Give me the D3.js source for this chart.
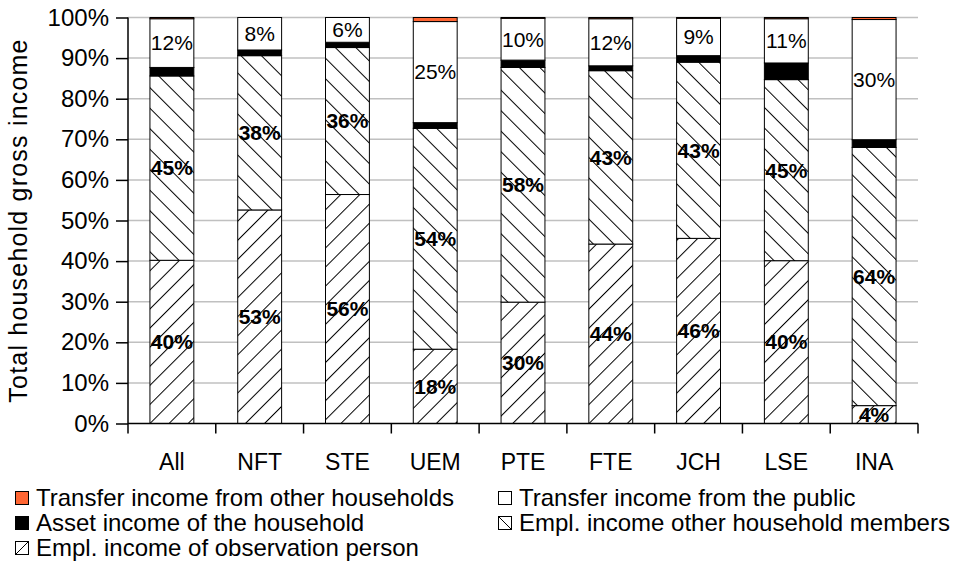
<!DOCTYPE html>
<html>
<head>
<meta charset="utf-8">
<script src="https://cdn.jsdelivr.net/npm/d3@7"></script>
<style>
  html, body { margin: 0; padding: 0; background: #fff; }
  svg { display: block; font-family: "Liberation Sans", Arial, sans-serif; }
</style>
</head>
<body>
<svg id="chart" width="957" height="576"></svg>
<script>
// Household groups on the x axis
const categories = ["All", "NFT", "STE", "UEM", "PTE", "FTE", "JCH", "LSE", "INA"];

// Income shares (%) per group, stacked bottom to top
const emplObservation = [40.2, 52.6, 56.4, 18.3, 29.9, 44.2, 45.6, 40.1, 4.4];
const emplOtherMembers = [45.4, 38.0, 36.2, 54.4, 57.8, 42.7, 43.4, 44.6, 63.6];
const assetIncome      = [2.1, 1.4, 1.3, 1.4, 1.8, 1.2, 1.6, 4.1, 1.9];
const transferPublic   = [12.0, 8.0, 6.1, 24.9, 10.3, 11.6, 9.2, 10.9, 29.6];
const transferHouseholds = [0.3, 0.0, 0.0, 1.0, 0.2, 0.3, 0.2, 0.3, 0.5];

const yTicks = [0, 10, 20, 30, 40, 50, 60, 70, 80, 90, 100];
const yTitle = "Total household gross income";

const seriesKeys = ["obs", "other", "asset", "public", "hh"];
const seriesNames = {
  hh: "Transfer income from other households",
  public: "Transfer income from the public",
  asset: "Asset income of the household",
  other: "Empl. income other household members",
  obs: "Empl. income of observation person"
};
const seriesValues = {
  obs: emplObservation, other: emplOtherMembers, asset: assetIncome,
  public: transferPublic, hh: transferHouseholds
};

const rows = categories.map((c, i) => {
  const r = { cat: c };
  seriesKeys.forEach(k => r[k] = seriesValues[k][i]);
  return r;
});

const svg = d3.select("#chart");
const FONT = "Liberation Sans, Arial, sans-serif";

// hatch fills
const defs = svg.append("defs");
function hatch(id, spacing, angle) {
  const p = defs.append("pattern")
    .attr("id", id)
    .attr("patternUnits", "userSpaceOnUse")
    .attr("width", spacing).attr("height", spacing)
    .attr("patternTransform", `rotate(${angle})`);
  p.append("rect").attr("width", spacing).attr("height", spacing).attr("fill", "#fff");
  p.append("line").attr("x1", 0.5).attr("x2", 0.5).attr("y1", 0).attr("y2", spacing)
    .attr("stroke", "#000").attr("stroke-width", 1);
}
hatch("hatchUp", 13.5, 45);     // "/" lines
hatch("hatchDown", 14.5, -45);  // "\" lines

const fills = {
  obs: "url(#hatchUp)",
  other: "url(#hatchDown)",
  asset: "#000",
  public: "#fff",
  hh: "#ff6633"
};

const plot = { left: 128, right: 918, top: 17.5, bottom: 423.5 };

const x = d3.scaleBand()
  .domain(categories)
  .range([plot.left, plot.right])
  .paddingInner(0.5)
  .paddingOuter(0.25);

const y = d3.scaleLinear()
  .domain([0, 100])
  .range([plot.bottom, plot.top]);

// horizontal gridlines
svg.append("g")
  .selectAll("line")
  .data(yTicks.filter(t => t > 0))
  .join("line")
  .attr("x1", plot.left).attr("x2", plot.right)
  .attr("y1", d => y(d)).attr("y2", d => y(d))
  .attr("stroke", "#c0c0c0").attr("stroke-width", 1.5);

// stacked bars
const stack = d3.stack().keys(seriesKeys);
const stacked = stack(rows);

const layers = svg.append("g")
  .selectAll("g")
  .data(stacked)
  .join("g")
  .attr("fill", d => fills[d.key]);

layers.selectAll("rect")
  .data(d => d)
  .join("rect")
  .attr("x", d => x(d.data.cat))
  .attr("width", x.bandwidth())
  .attr("y", d => y(d[1]))
  .attr("height", d => y(d[0]) - y(d[1]))
  .attr("stroke", "#000")
  .attr("stroke-width", 1);

// value labels
const labelled = { obs: "bold", other: "bold", public: "normal" };
stacked.filter(s => labelled[s.key]).forEach(s => {
  svg.append("g")
    .selectAll("text")
    .data(s)
    .join("text")
    .attr("x", d => x(d.data.cat) + x.bandwidth() / 2)
    .attr("y", d => y((d[0] + d[1]) / 2))
    .attr("dy", "0.35em")
    .attr("text-anchor", "middle")
    .attr("font-size", 21)
    .attr("font-weight", labelled[s.key])
    .attr("fill", "#000")
    .text(d => Math.round(d[1] - d[0]) + "%");
});

// y axis
const yAxis = d3.axisLeft(y)
  .tickValues(yTicks)
  .tickFormat(d => d + "%")
  .tickSize(12)
  .tickPadding(7);
const gy = svg.append("g")
  .attr("transform", `translate(${plot.left},0)`)
  .call(yAxis);
gy.select(".domain").remove();
gy.append("line")
  .attr("x1", 0).attr("x2", 0)
  .attr("y1", plot.top).attr("y2", plot.bottom + 10)
  .attr("stroke", "#000").attr("stroke-width", 1.5);
gy.selectAll(".tick line").attr("stroke", "#000").attr("stroke-width", 1.5);
gy.selectAll(".tick text")
  .attr("font-family", FONT).attr("font-size", 24).attr("fill", "#000");

// x axis with category boundary ticks
const gx = svg.append("g").attr("transform", `translate(0,${plot.bottom})`);
gx.append("line")
  .attr("x1", plot.left).attr("x2", plot.right)
  .attr("stroke", "#000").attr("stroke-width", 1.5);
const step = x.step();
const bounds = categories.map((c, i) => plot.left + step * (i + 1));
gx.selectAll("line.bound")
  .data(bounds)
  .join("line")
  .attr("class", "bound")
  .attr("x1", d => d).attr("x2", d => d)
  .attr("y1", 0).attr("y2", 10)
  .attr("stroke", "#000").attr("stroke-width", 1.5);
gx.selectAll("text")
  .data(categories)
  .join("text")
  .attr("x", d => x(d) + x.bandwidth() / 2)
  .attr("y", 46)
  .attr("text-anchor", "middle")
  .attr("font-size", 23)
  .attr("fill", "#000")
  .text(d => d);

// y axis title
svg.append("text")
  .attr("transform", `translate(27,${(plot.top + plot.bottom) / 2}) rotate(-90)`)
  .attr("text-anchor", "middle")
  .attr("font-size", 25)
  .attr("letter-spacing", 1.2)
  .attr("fill", "#000")
  .text(yTitle);

// legend
const legendItems = [
  { key: "hh", col: 0, row: 0 },
  { key: "public", col: 1, row: 0 },
  { key: "asset", col: 0, row: 1 },
  { key: "other", col: 1, row: 1 },
  { key: "obs", col: 0, row: 2 }
];
const colX = [15, 498];
const rowY = [498, 523, 548];
const legend = svg.append("g");
const li = legend.selectAll("g")
  .data(legendItems)
  .join("g")
  .attr("transform", d => `translate(${colX[d.col]},${rowY[d.row]})`);
li.append("rect")
  .attr("x", 0.5).attr("y", -6.5)
  .attr("width", 13).attr("height", 13)
  .attr("fill", d => d.key === "obs" ? "#fff" : d.key === "other" ? "#fff" : fills[d.key])
  .attr("stroke", "#000").attr("stroke-width", 1);
li.filter(d => d.key === "obs").append("line")
  .attr("x1", 0.5).attr("y1", 6.5).attr("x2", 13.5).attr("y2", -6.5)
  .attr("stroke", "#000").attr("stroke-width", 1);
li.filter(d => d.key === "other").append("line")
  .attr("x1", 0.5).attr("y1", -6.5).attr("x2", 13.5).attr("y2", 6.5)
  .attr("stroke", "#000").attr("stroke-width", 1);
li.append("text")
  .attr("x", 21)
  .attr("dy", "0.35em")
  .attr("font-size", 24)
  .attr("fill", "#000")
  .text(d => seriesNames[d.key]);
</script>
</body>
</html>
